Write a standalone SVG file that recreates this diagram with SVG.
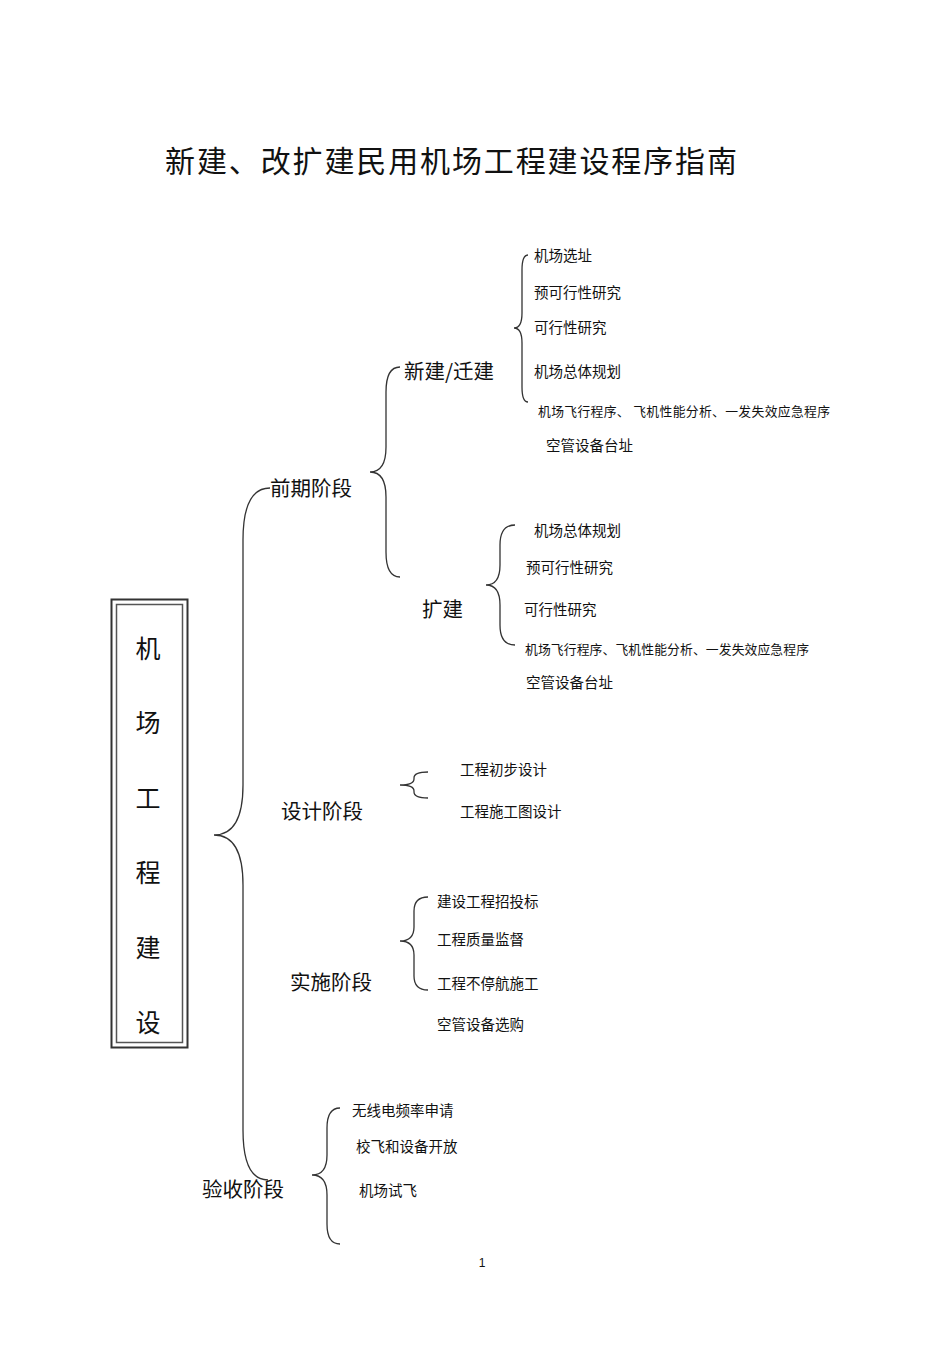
<svg xmlns="http://www.w3.org/2000/svg" width="950" height="1345" viewBox="0 0 950 1345">
<style>
text{font-family:"Noto Sans CJK SC","Liberation Sans",sans-serif;fill:#111}
.t{font-size:30px}.m{font-size:20.5px}.s{font-size:14.5px}.xs{font-size:12.8px}.b{font-size:25px}
.br{fill:none;stroke:#333;stroke-width:1.3}
</style>
<rect width="950" height="1345" fill="#fff"/>
<text class="t" x="165" y="172" textLength="572">新建、改扩建民用机场工程建设程序指南</text>
<g id="box">
<rect x="111.5" y="599.5" width="76" height="448" fill="none" stroke="#333" stroke-width="2"/>
<rect x="116.5" y="604.5" width="66" height="438" fill="none" stroke="#555" stroke-width="1.5"/>
<g class="b" text-anchor="middle">
<text x="148" y="658">机</text><text x="148" y="732">场</text><text x="148" y="808">工</text>
<text x="148" y="882">程</text><text x="148" y="957">建</text><text x="148" y="1032">设</text>
</g>
</g>
<g id="connectors">
<path class="br" d="M270,488 Q243,488 243,540 L243,785 Q243,835 214,835 Q243,835 243,885 L243,1130 Q243,1180 268,1180"/>
<path class="br" d="M400,367 Q386,367 386,392 L386,447 Q386,472 370,472 Q386,472 386,497 L386,552 Q386,577 400,577"/>
<path class="br" d="M528,255 Q522,255 522,270 L522,313 Q522,328 514,328 Q522,328 522,343 L522,387 Q522,402 528,402"/>
<path class="br" d="M515,525 Q500,525 500,545 L500,565 Q500,585 486,585 Q500,585 500,605 L500,625 Q500,645 515,645"/>
<path class="br" d="M428,772 Q414,772 414,778 L414,779 Q414,785 400,785 Q414,785 414,791 L414,792 Q414,798 428,798"/>
<path class="br" d="M428,897 Q414,897 414,911 L414,927 Q414,941 400,941 Q414,941 414,955 L414,976 Q414,990 428,990"/>
<path class="br" d="M340,1108 Q327,1108 327,1128 L327,1155 Q327,1175 312,1175 Q327,1175 327,1195 L327,1224 Q327,1244 340,1244"/>
</g>
<g id="stages" class="m">
<text x="270" y="496">前期阶段</text>
<text x="281" y="819">设计阶段</text>
<text x="290" y="990">实施阶段</text>
<text x="202" y="1197">验收阶段</text>
<text x="404" y="379">新建/迁建</text>
<text x="422" y="617">扩建</text>
</g>
<g id="items" class="s">
<text x="534" y="261">机场选址</text>
<text x="534" y="298">预可行性研究</text>
<text x="534" y="333">可行性研究</text>
<text x="534" y="377">机场总体规划</text>
<text class="xs" x="538" y="416" textLength="292">机场飞行程序、  飞机性能分析、一发失效应急程序</text>
<text x="546" y="451">空管设备台址</text>
<text x="534" y="536">机场总体规划</text>
<text x="526" y="573">预可行性研究</text>
<text x="524" y="615">可行性研究</text>
<text class="xs" x="525" y="654" textLength="284">机场飞行程序、飞机性能分析、一发失效应急程序</text>
<text x="526" y="688">空管设备台址</text>
<text x="460" y="775">工程初步设计</text>
<text x="460" y="817">工程施工图设计</text>
<text x="437" y="907">建设工程招投标</text>
<text x="437" y="945">工程质量监督</text>
<text x="437" y="989">工程不停航施工</text>
<text x="437" y="1030">空管设备选购</text>
<text x="352" y="1116">无线电频率申请</text>
<text x="356" y="1152">校飞和设备开放</text>
<text x="359" y="1196">机场试飞</text>
</g>
<text x="482" y="1267" font-size="12" text-anchor="middle" style="font-family:'Liberation Sans',sans-serif">1</text>
</svg>
